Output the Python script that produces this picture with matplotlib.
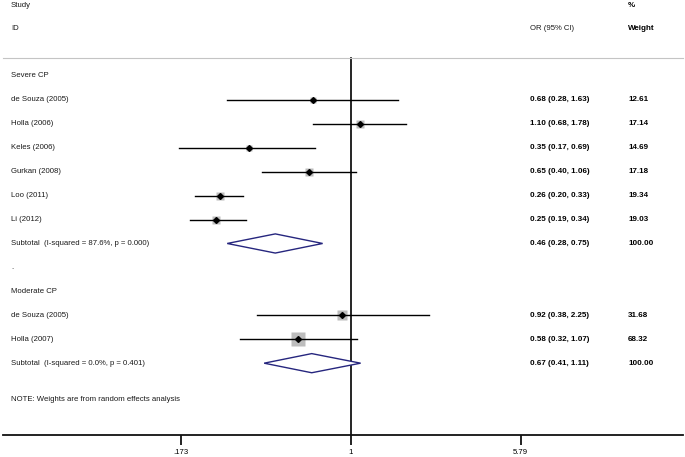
import numpy as np
import matplotlib
matplotlib.use("Agg")
import matplotlib.pyplot as plt
from matplotlib import transforms
from matplotlib.patches import Polygon

plt.rcParams['font.family'] = ['Liberation Sans', 'DejaVu Sans']

# ---- data ----
severe_labels = ["de Souza (2005)", "Holla (2006)", "Keles (2006)", "Gurkan (2008)", "Loo (2011)", "Li (2012)"]
severe_or = [0.68, 1.10, 0.35, 0.65, 0.26, 0.25]
severe_lo = [0.28, 0.68, 0.17, 0.40, 0.20, 0.19]
severe_hi = [1.63, 1.78, 0.69, 1.06, 0.33, 0.34]
severe_w = [12.61, 17.14, 14.69, 17.18, 19.34, 19.03]
severe_sub = [0.46, 0.28, 0.75]
severe_sub_label = "Subtotal  (I-squared = 87.6%, p = 0.000)"

moderate_labels = ["de Souza (2005)", "Holla (2007)"]
moderate_or = [0.92, 0.58]
moderate_lo = [0.38, 0.32]
moderate_hi = [2.25, 1.07]
moderate_w = [31.68, 68.32]
moderate_sub = [0.67, 0.41, 1.11]
moderate_sub_label = "Subtotal  (I-squared = 0.0%, p = 0.401)"

xticks = [0.173, 1, 5.79]
xtick_labels = [".173", "1", "5.79"]

# ---- figure ----
W, H = 685, 457
fig = plt.figure(figsize=(W / 100, H / 100), dpi=100)
ax_left_px, ax_right_px = 3, 683
ax_bottom_px = 435
ax = fig.add_axes([ax_left_px / W, 1 - ax_bottom_px / H, (ax_right_px - ax_left_px) / W, ax_bottom_px / H])

px_per_dec = 223.0
one_px = 350.5
ax.set_xscale('log')
ax.set_xlim(10 ** ((ax_left_px - one_px) / px_per_dec), 10 ** ((ax_right_px - one_px) / px_per_dec))
ax.set_ylim(15.0, -3.17)

for s in ['top', 'left', 'right']:
    ax.spines[s].set_visible(False)
ax.spines['bottom'].set_linewidth(1.3)
ax.spines['bottom'].set_color('#111111')
ax.set_yticks([])
ax.set_xticks(xticks)
ax.set_xticklabels(xtick_labels, fontsize=5.6)
ax.minorticks_off()
ax.tick_params(axis='x', which='major', length=7, width=1.3, color='#111111', pad=3)

bt = transforms.blended_transform_factory(ax.transAxes, ax.transData)
def fx(px):
    return (px - ax_left_px) / (ax_right_px - ax_left_px)

fs = 5.6
fsb = 5.8
x_lab, x_or, x_w = 11, 530, 628
txt_col = '#1a1a1a'

# headers
ax.text(fx(x_lab), -2.96, "Study", transform=bt, fontsize=fs, va='center', color=txt_col)
ax.text(fx(x_lab), -1.96, "ID", transform=bt, fontsize=fs, va='center', color=txt_col)
ax.text(fx(x_or), -1.96, "OR (95% CI)", transform=bt, fontsize=fs, va='center', color=txt_col)
ax.text(fx(x_w), -2.96, "%", transform=bt, fontsize=fsb, va='center', fontweight='bold')
ax.text(fx(x_w), -1.96, "Weight", transform=bt, fontsize=fsb, va='center', fontweight='bold')

ax.plot([0, 1], [-0.75, -0.75], transform=bt, color='#c4c4c4', lw=0.8, clip_on=False)
ax.plot([1, 1], [-0.75, 15.0], color='black', lw=1.2, zorder=1)

sq_col = '#bdbdbd'
dia_col = '#26267e'

def study_rows(labels, ors, los, his, ws, y0):
    for i, (lab, o, lo, hi, w) in enumerate(zip(labels, ors, los, his, ws)):
        y = y0 + i
        ax.text(fx(x_lab), y, lab, transform=bt, fontsize=fs, va='center', color=txt_col)
        ax.plot([o], [y], marker='s', ms=1.3 * np.sqrt(w), color=sq_col, mec='none', zorder=2)
        ax.plot([lo, hi], [y, y], color='black', lw=1.0, zorder=3)
        ax.plot([o], [y], marker='D', ms=3.0, color='black', zorder=4)
        ax.text(fx(x_or), y, f"{o:.2f} ({lo:.2f}, {hi:.2f})", transform=bt, fontsize=fsb,
                va='center', fontweight='bold')
        ax.text(fx(x_w), y, f"{w:.2f}", transform=bt, fontsize=fsb, va='center', fontweight='bold')

def subtotal(sub, label, y):
    o, lo, hi = sub
    ax.add_patch(Polygon([[lo, y], [o, y - 0.4], [hi, y], [o, y + 0.4]], closed=True,
                         facecolor='white', edgecolor=dia_col, lw=1.0, zorder=3))
    ax.text(fx(x_lab), y, label, transform=bt, fontsize=fs, va='center', color=txt_col)
    ax.text(fx(x_or), y, f"{o:.2f} ({lo:.2f}, {hi:.2f})", transform=bt, fontsize=fsb,
            va='center', fontweight='bold')
    ax.text(fx(x_w), y, "100.00", transform=bt, fontsize=fsb, va='center', fontweight='bold')

ax.text(fx(x_lab), 0, "Severe CP", transform=bt, fontsize=fs, va='center', color=txt_col)
study_rows(severe_labels, severe_or, severe_lo, severe_hi, severe_w, 1)
subtotal(severe_sub, severe_sub_label, 7)
ax.text(fx(x_lab), 8, ".", transform=bt, fontsize=fs, va='center', color=txt_col)
ax.text(fx(x_lab), 9, "Moderate CP", transform=bt, fontsize=fs, va='center', color=txt_col)
study_rows(moderate_labels, moderate_or, moderate_lo, moderate_hi, moderate_w, 10)
subtotal(moderate_sub, moderate_sub_label, 12)
ax.text(fx(x_lab), 13.5, "NOTE: Weights are from random effects analysis", transform=bt,
        fontsize=fs, va='center', color=txt_col)

fig.savefig("out.png", dpi=100)
